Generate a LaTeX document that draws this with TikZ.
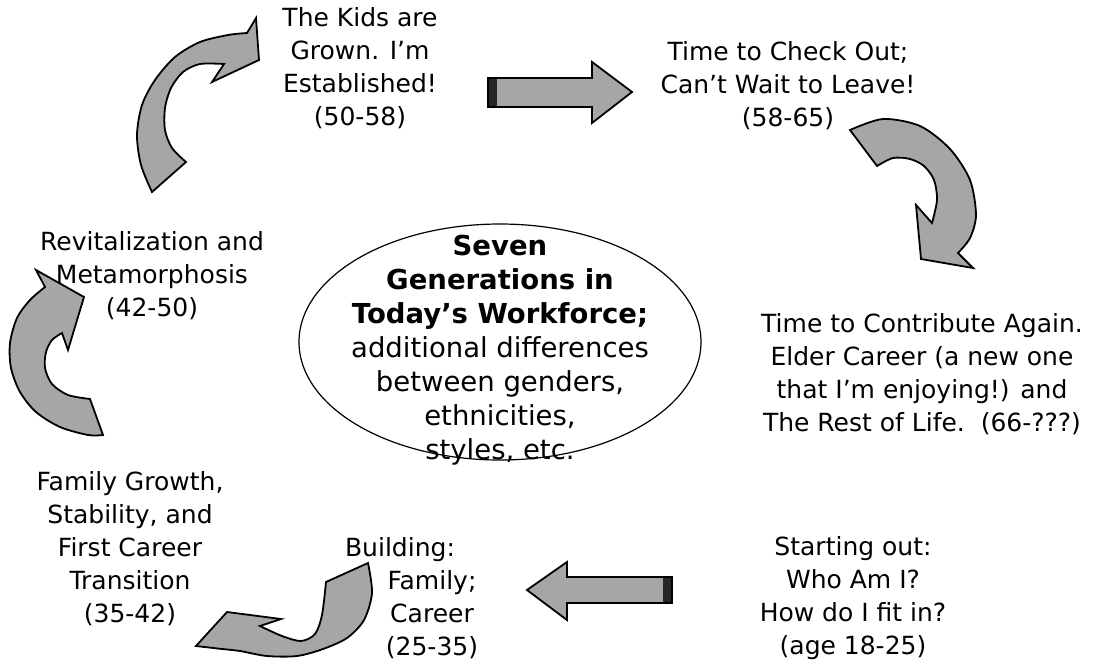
\documentclass[tikz,border=0pt]{standalone}
\usepackage{fontspec}
\setmainfont{DejaVu Sans}
\usetikzlibrary{shapes.geometric}
\newcommand\stagefont{\fontsize{25}{33}\selectfont}
\newcommand\corefont{\fontsize{27.5}{34}\selectfont}
\tikzset{
	stage/.style={font=\stagefont, align=center, inner sep=0pt},
	blockarrow/.style={draw=black, line width=1.8pt, fill=black!35, line join=miter},
	tailband/.style={fill=black!85, draw=none}
}

\begin{document}
\begin{tikzpicture}[x=1pt, y=-1pt]
			%%%%% START %%%%%
			\useasboundingbox (0,0) rectangle (1100,665);
			
			% centre ellipse
			\node[draw, ellipse, line width=1.2pt, minimum width=402pt, minimum height=236pt] (core) at (500,342) {};
			\node[font=\corefont, align=center, inner sep=0pt] (coretext) at (500,350)
				{\textbf{Seven}\\\textbf{Generations in}\\\textbf{Today’s Workforce;}\\additional differences\\between genders,\\ethnicities,\\styles, etc.};
			
			% life stages
			\node[stage] (start) at (853,598) {Starting out:\\Who Am I?\\How do I fit in?\\(age 18-25)};
			\node[stage] (build) at (432,598) {Building:\hspace*{64pt}\\Family;\\Career\\(25-35)};
			\node[stage] (growth) at (130,549) {Family Growth,\\Stability, and\\First Career\\Transition\\(35-42)};
			\node[stage] (revital) at (152,276) {Revitalization and\\Metamorphosis\\(42-50)};
			\node[stage] (grown) at (360,68) {The Kids are\\Grown. I’m\\Established!\\(50-58)};
			\node[stage] (checkout) at (788,86) {Time to Check Out;\\Can’t Wait to Leave!\\(58-65)};
			\node[stage] (again) at (922,374) {Time to Contribute Again.\\Elder Career (a new one\\that I’m enjoying!) and\\The Rest of Life.\ \ (66-???)};
			
			% straight arrows
			\draw[blockarrow] (672,577) -- (567,577) -- (567,562) -- (527,590) -- (567,620) -- (567,603) -- (672,603) -- cycle;
			\fill[tailband] (663,578) rectangle (671,602);
			
			\draw[blockarrow] (488,78) -- (592,78) -- (592,62) -- (632,92) -- (592,123) -- (592,107) -- (488,107) -- cycle;
			\fill[tailband] (489,79) rectangle (497,106);
			
			% curved arrows
			\draw[blockarrow] plot[smooth] coordinates {(368,563) (372,593) (364,620) (347,638) (323,649) (297,656) (267,656) (240,651) (222,649)}
				-- (196,646) -- (227,612) -- (281,619) -- (260,626)
				-- plot[smooth] coordinates {(260,626) (282,636) (301,641) (315,634) (322,615) (326,582)} -- cycle;
			
			\draw[blockarrow] plot[smooth] coordinates {(103,435) (88,435) (60,427) (36,412) (20,392) (11,368) (10,343) (17,318) (30,300) (45,287)}
				-- (36,270) -- (84,297) -- (68,350) -- (62,333)
				-- plot[smooth] coordinates {(62,333) (52,340) (46,352) (45,368) (52,384) (68,395) (90,399)} -- cycle;
			
			\draw[blockarrow] plot[smooth] coordinates {(152,192) (141,165) (137,135) (142,105) (155,80) (175,57) (200,42) (228,35) (247,33)}
				-- (256,18) -- (259,60) -- (212,82) -- (224,64)
				-- plot[smooth] coordinates {(224,64) (200,64) (183,72) (171,88) (165,108) (165,130) (172,148) (186,162)} -- cycle;
			
			\draw[blockarrow] plot[smooth] coordinates {(850,130) (883,119) (920,126) (950,149) (970,180) (976,215) (970,238) (958,253)}
				-- (973,268) -- (921,259) -- (916,205) -- (932,223)
				-- plot[smooth] coordinates {(932,223) (937,200) (934,180) (924,166) (910,159) (893,158) (877,166)} -- cycle;
			%%%%% END %%%%%
\end{tikzpicture}
\end{document}
